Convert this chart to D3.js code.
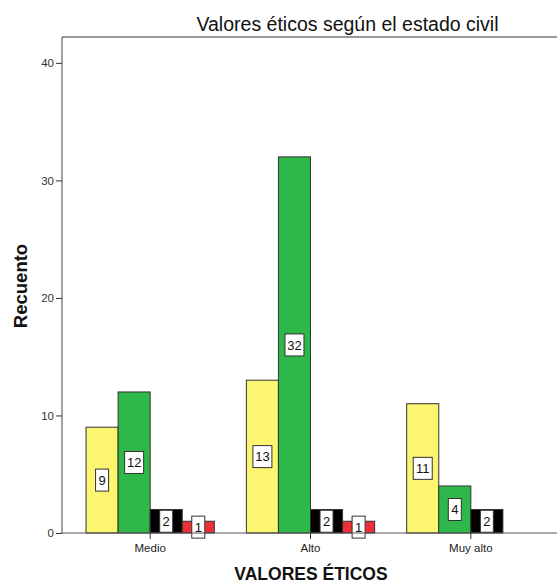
<!DOCTYPE html>
<html>
<head>
<meta charset="utf-8">
<script src="https://cdn.jsdelivr.net/npm/d3@7"></script>
<style>
  html, body { margin: 0; padding: 0; background: #fff; }
  svg { display: block; font-family: Arial, "Liberation Sans", sans-serif; }
</style>
</head>
<body>
<svg id="chart" width="557" height="584"></svg>
<script>
// Recuento por nivel de valores éticos y estado civil
const categories = ["Medio", "Alto", "Muy alto"];
const series = ["Soltero", "Casado", "Conviviente", "Divorciado"];
const colors = ["#fbf56f", "#2fb84a", "#000000", "#ee2f37"];
const values = [
  [9, 12, 2, 1],   // Medio
  [13, 32, 2, 1],  // Alto
  [11, 4, 2, 0]    // Muy alto
];
const yTicks = [0, 10, 20, 30, 40];

const svg = d3.select("#chart");
const plotLeft = 62, plotRight = 557, plotTop = 37, plotBottom = 533;

const y = d3.scaleLinear().domain([0, 42.2]).range([plotBottom, plotTop]);
const x = d3.scaleBand().domain(categories).range([70, 551]).paddingInner(0.2).paddingOuter(0.1);
const xs = d3.scaleBand().domain(series).range([0, x.bandwidth()]);

// frame top line
svg.append("line").attr("x1", plotLeft).attr("x2", plotRight).attr("y1", plotTop).attr("y2", plotTop)
  .attr("stroke", "#777").attr("stroke-width", 1.5);

// bars
const groups = svg.append("g").selectAll("g").data(categories).join("g")
  .attr("transform", d => `translate(${x(d)},0)`);

const rowData = ci => series.map((s, si) => ({ s, si, v: values[ci][si] })).filter(d => d.v > 0);

groups.each(function(cat, ci) {
  d3.select(this).selectAll("rect.bar").data(rowData(ci)).join("rect").attr("class", "bar")
    .attr("x", d => xs(d.s))
    .attr("y", d => y(d.v))
    .attr("width", xs.bandwidth())
    .attr("height", d => y(0) - y(d.v))
    .attr("fill", d => colors[d.si])
    .attr("stroke", "#333")
    .attr("stroke-width", 1);
});

// axes
const yAxis = svg.append("g").attr("transform", `translate(${plotLeft},0)`)
  .call(d3.axisLeft(y).tickValues(yTicks).tickSize(6).tickPadding(2).tickSizeOuter(0));
yAxis.select(".domain").attr("d", `M0,${plotBottom}V${plotTop}`).attr("stroke", "#444");
yAxis.selectAll(".tick line").attr("stroke", "#333");
yAxis.selectAll(".tick text").attr("fill", "#333").style("font-size", "11.5px");

const xAxis = svg.append("g").attr("transform", `translate(0,${plotBottom})`)
  .call(d3.axisBottom(x).tickSize(6).tickPadding(5).tickSizeOuter(0));
xAxis.select(".domain").attr("d", `M${plotLeft},0H${plotRight}`).attr("stroke", "#555");
xAxis.selectAll(".tick line").attr("stroke", "#333");
xAxis.selectAll(".tick text").attr("fill", "#222").style("font-size", "11.5px");

// value labels
groups.each(function(cat, ci) {
  const lab = d3.select(this).selectAll("g.lab").data(rowData(ci)).join("g").attr("class", "lab")
    .attr("transform", d => `translate(${xs(d.s) + xs.bandwidth() / 2},${y(d.v / 2)})`);
  lab.append("rect")
    .attr("x", d => String(d.v).length > 1 ? -9.5 : -6.5)
    .attr("y", -11)
    .attr("width", d => String(d.v).length > 1 ? 19 : 13)
    .attr("height", 22)
    .attr("fill", "#fff")
    .attr("stroke", "#333")
    .attr("stroke-width", 1);
  lab.append("text")
    .attr("text-anchor", "middle")
    .attr("dy", "0.36em")
    .style("font-size", "13px")
    .attr("fill", "#111")
    .text(d => d.v);
});

// titles
svg.append("text").attr("x", 347.5).attr("y", 31).attr("text-anchor", "middle")
  .style("font-size", "19.5px").attr("fill", "#111").text("Valores éticos según el estado civil");

svg.append("text").attr("transform", "translate(26.5,286) rotate(-90)").attr("text-anchor", "middle")
  .style("font-size", "18.5px").style("font-weight", "bold").attr("fill", "#111").text("Recuento");

svg.append("text").attr("x", 311).attr("y", 580).attr("text-anchor", "middle")
  .style("font-size", "17.5px").style("font-weight", "bold").attr("fill", "#111").text("VALORES ÉTICOS");
</script>
</body>
</html>
